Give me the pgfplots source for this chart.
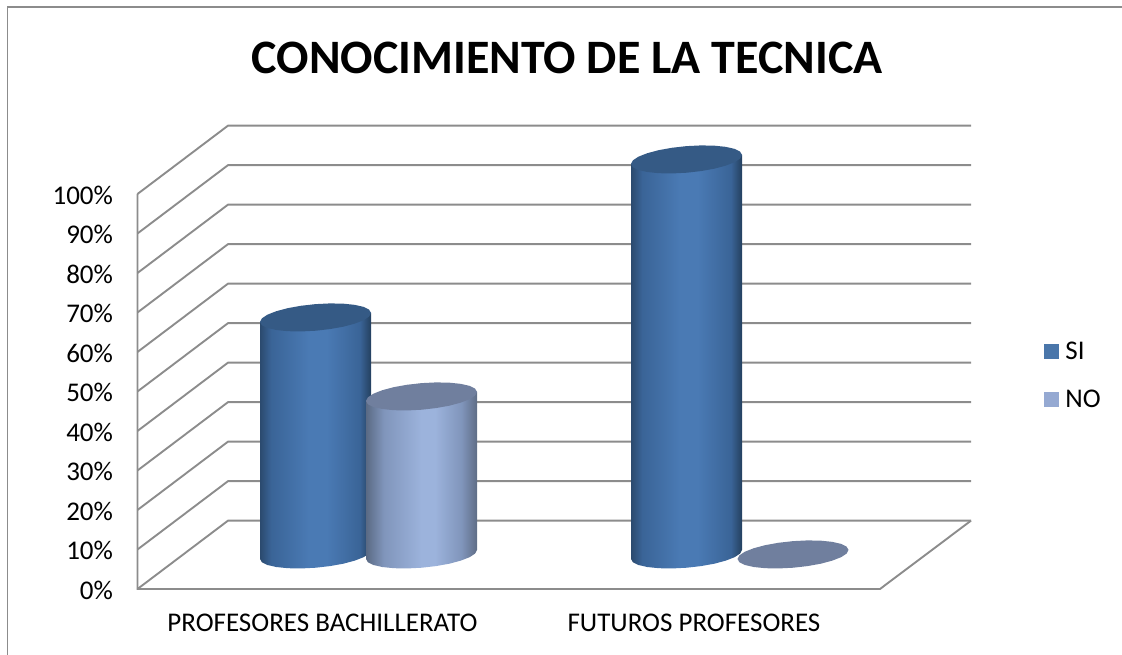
\documentclass[border=0pt]{standalone}
\usepackage{fontspec}
\setmainfont{Carlito}
\usepackage{pgfplots}
\usepackage{pgfplotstable}
\pgfplotsset{compat=1.18}
\definecolor{gridc}{HTML}{8C8C8C}
\definecolor{sicap}{HTML}{355A85}
\definecolor{nocap}{HTML}{707F9E}
\definecolor{sileg}{HTML}{4A76AA}
\definecolor{noleg}{HTML}{95A9D2}
\definecolor{HTMLa}{HTML}{2B4A6E}
\definecolor{HTMLb}{HTML}{3A6497}
\definecolor{HTMLc}{HTML}{4A7AB4}
\definecolor{HTMLd}{HTML}{24405F}
\definecolor{NOa}{HTML}{5A6A84}
\definecolor{NOb}{HTML}{8095BB}
\definecolor{NOc}{HTML}{9CB3DC}
\definecolor{NOd}{HTML}{5F6D86}
\pgfdeclarehorizontalshading{cylblue}{100bp}{
 color(0bp)=(HTMLa);color(25bp)=(HTMLa);color(30bp)=(HTMLb);color(47bp)=(HTMLc);color(55bp)=(HTMLc);color(70bp)=(HTMLb);color(75bp)=(HTMLd);color(100bp)=(HTMLd)}
\pgfdeclarehorizontalshading{cyllight}{100bp}{
 color(0bp)=(NOa);color(25bp)=(NOa);color(33bp)=(NOb);color(50bp)=(NOc);color(56bp)=(NOc);color(68bp)=(NOb);color(75bp)=(NOd);color(100bp)=(NOd)}
% outline of a cylinder top, in pixels around its centre
\pgfplotstableread{
dx dy
55.5 4.5
53.6 7.79
48.1 10.55
39.2 12.58
27.8 13.77
14.4 14.02
0 13.3
-14.4 11.68
-27.8 9.27
-39.2 6.22
-48.1 2.75
-53.6 -0.91
-55.5 -4.5
-53.6 -7.79
-48.1 -10.55
-39.2 -12.58
-27.8 -13.77
-14.4 -14.02
0 -13.3
14.4 -11.68
27.8 -9.27
39.2 -6.22
48.1 -2.75
53.6 0.91
}\capshape
% outline of a cylinder body: h=0 at the base, h=1 at the top
\pgfplotstableread{
dx dy h
-55.5 -4.5 0
-53.6 -7.79 0
-48.1 -10.55 0
-39.2 -12.58 0
-27.8 -13.77 0
-14.4 -14.02 0
0 -13.3 0
14.4 -11.68 0
27.8 -9.27 0
39.2 -6.22 0
48.1 -2.75 0
53.6 0.91 0
55.5 4.5 0
55.5 4.5 1
-55.5 -4.5 1
}\bodyshape
\pgfplotstableread{
x y
137.5 0
228 17.3
971 17.3
}\gridshape
% #1 centre in x, #2 value in percent, #3 shading, #4 cap colour
\newcommand\cyl[4]{%
 \ifdim #2pt>0pt
 \addplot[forget plot,draw=none,shade,shading=#3] table[x expr=\thisrow{dx}+#1,y expr={8.75+#2*\thisrow{h}+\thisrow{dy}/3.95}] {\bodyshape};
 \fi
 \addplot[forget plot,draw=none,fill=#4] table[x expr=\thisrow{dx}+#1,y expr={8.75+#2+\thisrow{dy}/3.95}] {\capshape};
}
\begin{document}
\begin{tikzpicture}[x=1pt,y=1pt]
\useasboundingbox (0,0) rectangle (1122,655);
\draw[gridc,line width=1.7pt] (7.5,0) -- (7.5,648) -- (1122,648);
\node[anchor=base,font=\bfseries\fontsize{48}{48}\selectfont] at (567,581) {CONOCIMIENTO DE LA TECNICA};
\begin{axis}[
 at={(137.5pt,66pt)},anchor=south west,
 scale only axis,width=742.5pt,height=395pt,
 xmin=137.5,xmax=880,ymin=0,ymax=100,
 clip=false,
 axis line style={draw=none},
 tick style={draw=none},
 major tick length=0pt,
 xtick={322.5,694},
 xticklabels={PROFESORES BACHILLERATO,FUTUROS PROFESORES},
 ytick={0,10,...,100},
 yticklabel={\pgfmathprintnumber{\tick}\%},
 /pgf/number format/assume math mode=true,
 tick label style={font=\fontsize{27}{27}\selectfont,text=black},
 xticklabel style={yshift=-21pt},
 yticklabel style={xshift=-21pt,yshift=-1pt},
 legend style={at={(axis cs:1044,63.2)},anchor=north west,draw=none,fill=none,
   font=\fontsize{27}{27}\selectfont,row sep=25pt,inner sep=0pt},
 legend cell align=left,
 legend image code/.code={\fill[#1,draw=none] (0pt,-7.5pt) rectangle (15pt,7.5pt);\path (19pt,0pt) circle (0pt);},
]
\pgfplotsinvokeforeach{0,10,...,100}{
 \addplot[forget plot,gridc,line width=1.9pt,line join=miter] table[y expr=\thisrow{y}+#1] {\gridshape};
}
\addplot[forget plot,gridc,line width=1.9pt] coordinates {(137.5,100) (137.5,0) (880,0) (971,17.3)};
\cyl{315.5}{60}{cylblue}{sicap}
\cyl{421.5}{40}{cyllight}{nocap}
\cyl{686.5}{100}{cylblue}{sicap}
\cyl{793}{0}{cyllight}{nocap}
\addlegendimage{fill=sileg}
\addlegendentry{SI}
\addlegendimage{fill=noleg}
\addlegendentry{NO}
\end{axis}
\end{tikzpicture}
\end{document}
